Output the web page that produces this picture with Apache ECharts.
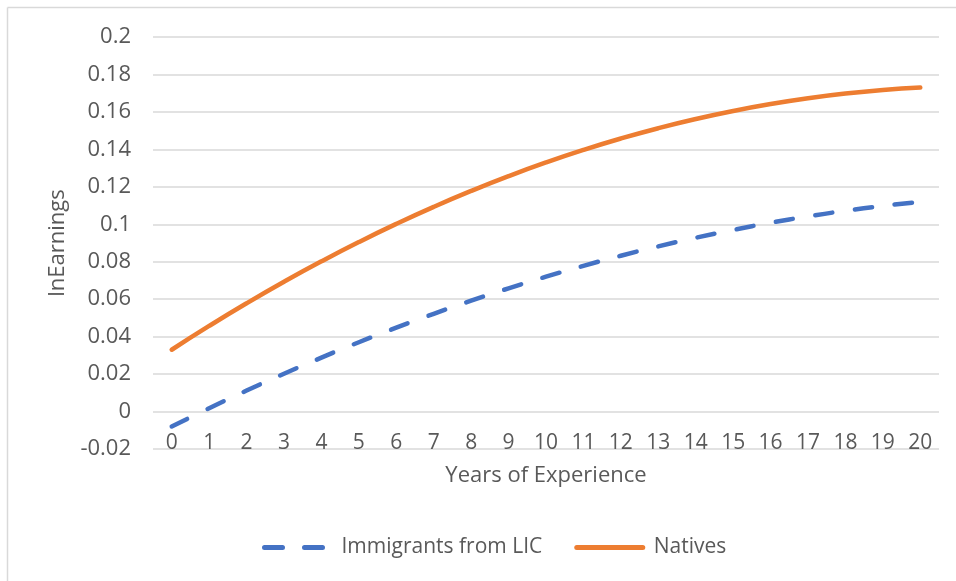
<!DOCTYPE html>
<html>
<head>
<meta charset="utf-8">
<style>
  html, body { margin: 0; padding: 0; background: #ffffff; }
  #chart { width: 956px; height: 581px; }
</style>
<script src="https://cdn.jsdelivr.net/npm/echarts@6/dist/echarts.min.js"></script>
</head>
<body>
<div id="chart"></div>
<script>
// Years of experience (category axis)
const years = ['0','1','2','3','4','5','6','7','8','9','10','11','12','13','14','15','16','17','18','19','20'];

// Log-earnings profile, immigrants from low-income countries
const immigrantsLIC = [-0.0080, 0.0018, 0.0112, 0.0202, 0.0288, 0.0370, 0.0448, 0.0522, 0.0592, 0.0658, 0.0720,
                       0.0778, 0.0832, 0.0882, 0.0928, 0.0970, 0.1008, 0.1042, 0.1072, 0.1098, 0.1120];

// Log-earnings profile, natives
const natives = [0.0330, 0.0457, 0.0578, 0.0693, 0.0802, 0.0905, 0.1002, 0.1093, 0.1178, 0.1257, 0.1330,
                 0.1397, 0.1458, 0.1513, 0.1562, 0.1605, 0.1642, 0.1673, 0.1698, 0.1717, 0.1730];

// Value-axis range and step
const yMin = -0.02, yMax = 0.2, yStep = 0.02;

const FONT = '"Open Sans", "Liberation Sans", sans-serif';
const TEXT = '#595959';
const BLUE = '#4472C4';
const ORANGE = '#ED7D31';

const chart = echarts.init(document.getElementById('chart'), null, { renderer: 'canvas' });

chart.setOption({
  animation: false,
  backgroundColor: '#ffffff',
  textStyle: { fontFamily: FONT, color: TEXT },
  graphic: [
    { type: 'line', shape: { x1: 7.5, y1: 7.5, x2: 956, y2: 7.5 }, style: { stroke: '#d9d9d9', lineWidth: 1.5 } },
    { type: 'line', shape: { x1: 7.5, y1: 7.5, x2: 7.5, y2: 581 }, style: { stroke: '#d9d9d9', lineWidth: 1.5 } }
  ],
  grid: { left: 153, right: 17, top: 37, bottom: 132, containLabel: false },
  legend: {
    top: 532,
    left: 257,
    itemWidth: 66,
    itemHeight: 12,
    itemGap: 32,
    textStyle: { fontFamily: FONT, fontSize: 21, color: TEXT, padding: [0, 0, 0, 6] },
    data: [
      {
        name: 'Immigrants from LIC',
        itemStyle: { opacity: 0 },
        lineStyle: { color: BLUE, width: 5, type: [18, 22], cap: 'round' }
      },
      {
        name: 'Natives',
        itemStyle: { opacity: 0 },
        lineStyle: { color: ORANGE, width: 5, cap: 'round' }
      }
    ]
  },
  xAxis: {
    type: 'category',
    data: years,
    boundaryGap: true,
    name: 'Years of Experience',
    nameLocation: 'middle',
    nameGap: 16,
    nameTextStyle: { fontFamily: FONT, fontSize: 22, color: TEXT },
    axisLine: { show: false },
    axisTick: { show: false },
    axisLabel: { fontFamily: FONT, fontSize: 21, color: TEXT, margin: -16, interval: 0 },
    splitLine: { show: false }
  },
  yAxis: {
    type: 'value',
    min: yMin,
    max: yMax,
    interval: yStep,
    name: 'lnEarnings',
    nameLocation: 'middle',
    nameGap: 84,
    nameTextStyle: { fontFamily: FONT, fontSize: 22, color: TEXT },
    axisLine: { show: false },
    axisTick: { show: false },
    axisLabel: {
      fontFamily: FONT, fontSize: 22, color: TEXT, margin: 22,
      formatter: v => String(Math.round(v * 100) / 100)
    },
    splitLine: { show: true, lineStyle: { color: '#d9d9d9', width: 1.5 } }
  },
  series: [
    {
      name: 'Immigrants from LIC',
      type: 'line',
      data: immigrantsLIC,
      smooth: true,
      symbol: 'none',
      lineStyle: { color: BLUE, width: 4.5, type: [17.5, 22.5], cap: 'round' },
      itemStyle: { color: BLUE }
    },
    {
      name: 'Natives',
      type: 'line',
      data: natives,
      smooth: true,
      symbol: 'none',
      lineStyle: { color: ORANGE, width: 4.5, cap: 'round' },
      itemStyle: { color: ORANGE }
    }
  ]
});
</script>
</body>
</html>
